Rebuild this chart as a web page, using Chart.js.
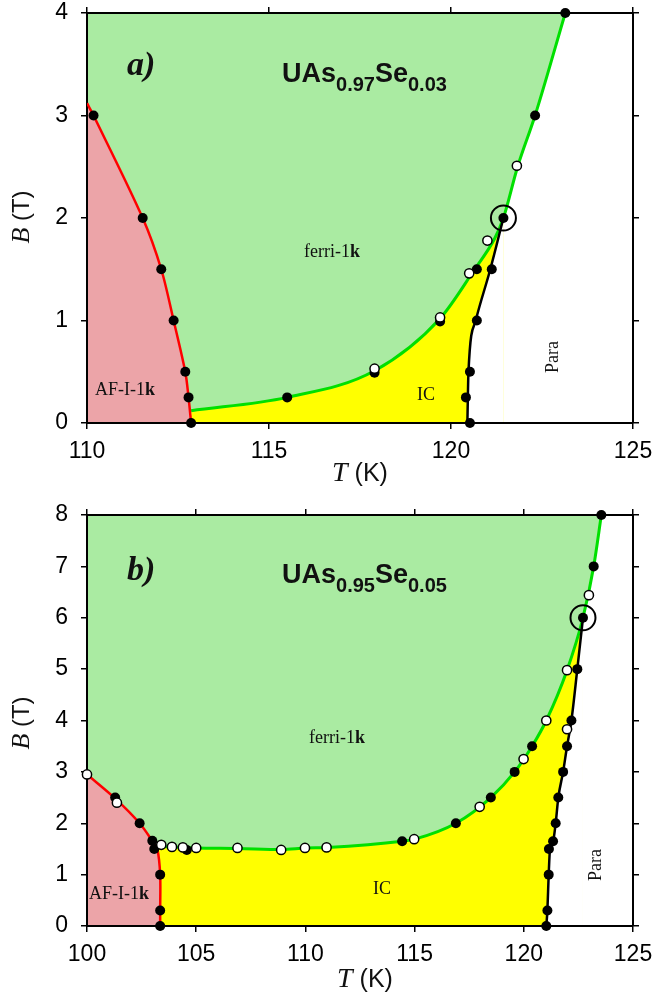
<!DOCTYPE html>
<html>
<head>
<meta charset="utf-8">
<script src="https://cdn.jsdelivr.net/npm/chart.js@4.4.1/dist/chart.umd.min.js"></script>
<style>
  html, body { margin: 0; padding: 0; background: #fff; }
  #wrap { position: relative; width: 653px; height: 997px; }
  canvas { position: absolute; left: 0; }
  #chartA { top: 0; }
  #chartB { top: 497px; }
</style>
</head>
<body>
<div id="wrap">
  <canvas id="chartA" width="653" height="497"></canvas>
  <canvas id="chartB" width="653" height="500"></canvas>
</div>
<script>
/* ── Panel a) UAs0.97Se0.03 : [T (K), B (T)] ── */
const afLineA    = [[110.0,3.12],[110.18,3.0],[111.53,2.0],[112.04,1.5],[112.38,1.0],[112.70,0.5],[112.79,0.25],[112.86,0]];
const ferriLineA = [[112.86,0.12],[115.5,0.25],[117.9,0.51],[119.7,1.02],[120.65,1.5],[121.2,1.8],[121.44,2.0],[121.83,2.5],[122.31,3.0],[123.14,4.0]];
const paraLineA  = [[120.45,0],[120.48,0.5],[120.68,1.0],[121.08,1.5],[121.44,2.0]];
const filledA = [[110.18,3.0],[111.53,2.0],[112.04,1.5],[112.38,1.0],[112.70,0.5],[112.79,0.25],[112.86,0],
                 [115.5,0.25],[117.9,0.49],[119.7,0.99],[120.71,1.5],[121.12,1.5],
                 [120.52,0],[120.41,0.25],[120.52,0.5],[120.71,1.0],[121.44,2.0],[122.31,3.0],[123.14,4.0]];
const openA  = [[117.9,0.53],[119.7,1.03],[120.5,1.46],[121.0,1.78],[121.81,2.51]];
const ringA  = [[121.44,2.0]];
const xRangeA = [110, 125, 5];
const yRangeA = [0, 4, 1];

/* ── Panel b) UAs0.95Se0.05 ── */
const afLineB    = [[100.0,2.95],[101.3,2.48],[102.41,2.0],[103.0,1.65],[103.22,1.5],[103.35,1.0],[103.35,0.3],[103.35,0]];
const ferriLineB = [[103.2,1.55],[103.9,1.54],[105.0,1.52],[106.9,1.51],[108.9,1.49],[110.0,1.52],[111.0,1.53],
                    [114.43,1.65],[115.0,1.69],[116.89,2.0],[118.49,2.5],[119.58,3.0],[120.38,3.5],[121.03,4.0],
                    [121.98,4.98],[122.71,6.0],[123.2,7.0],[123.55,8.0]];
const paraLineB  = [[121.03,0],[121.08,0.3],[121.14,1.0],[121.2,1.5],[121.34,1.65],[121.46,2.0],[121.58,2.5],
                    [121.8,3.0],[121.98,3.5],[122.18,4.0],[122.45,5.0],[122.71,6.0]];
const filledB = [[101.29,2.5],[102.41,2.0],[102.99,1.66],[103.08,1.5],[103.35,1.0],[103.35,0.3],[103.35,0],
                 [104.57,1.48],[114.43,1.65],[116.89,2.0],[118.49,2.5],[119.58,3.0],[120.38,3.5],
                 [121.03,0],[121.08,0.3],[121.14,1.0],[121.15,1.5],[121.34,1.65],[121.46,2.0],[121.58,2.5],
                 [121.8,3.0],[121.98,3.5],[122.18,4.0],[122.45,5.0],[122.71,6.0],[123.2,7.0],[123.55,8.0]];
const openB  = [[100.0,2.95],[101.37,2.4],[103.4,1.58],[103.89,1.54],[104.39,1.53],[105.0,1.52],[106.89,1.52],
                [108.89,1.48],[109.98,1.52],[110.97,1.53],[114.98,1.69],[117.98,2.32],[119.99,3.25],
                [121.03,4.0],[121.98,4.98],[121.98,3.83],[122.98,6.44]];
const ringB  = [[122.71,6.0]];
const xRangeB = [100, 125, 5];
const yRangeB = [0, 8, 1];

/* ── styles ── */
const SERIF = '"Liberation Serif", "Times New Roman", serif';
const SANS  = '"Liberation Sans", Arial, sans-serif';
const C_FERRI = '#aaeba2';
const C_AF    = '#eca4a8';
const C_IC    = '#ffff00';

const xy = arr => arr.map(([x, y]) => ({ x, y }));

function fillSet(points, target, color, order, mode) {
  return { data: xy(points), fill: target, backgroundColor: color, borderWidth: 0,
           pointRadius: 0, order, tension: 0.3, cubicInterpolationMode: mode };
}
function lineSet(points, color, width, order, mode) {
  return { data: xy(points), fill: false, borderColor: color, borderWidth: width,
           pointRadius: 0, order, tension: 0.3, cubicInterpolationMode: mode };
}
function dotSet(points, radius, bg, border, bw, order) {
  return { data: xy(points), showLine: false, pointRadius: radius, pointBackgroundColor: bg,
           pointBorderColor: border, pointBorderWidth: bw, order, clip: false };
}

function buildDatasets(af, ferri, para, filled, open, ring) {
  // ferri region = everything above the AF line and the ferri line
  const edge = af.filter(p => p[1] > ferri[0][1]).concat(ferri);
  // IC region stops where the para line meets the ferri line
  const tEnd = para[para.length - 1][0];
  const icTop = ferri.filter(p => p[0] <= tEnd);
  return [
    fillSet(edge, 'end', C_FERRI, 20, 'monotone'),
    fillSet(icTop, 'start', C_IC, 19, 'monotone'),
    fillSet(af, 'start', C_AF, 18, 'default'),
    fillSet(para, 'start', '#ffffff', 17, 'monotone'),
    lineSet(af, '#ff0000', 2.5, 10, 'default'),
    lineSet(ferri, '#00e000', 3, 10, 'monotone'),
    lineSet(para, '#000000', 2.5, 9, 'monotone'),
    dotSet(filled, 5, '#000', '#000', 0, 3),
    dotSet(open, 4.6, '#fff', '#000', 1.5, 2),
    dotSet(ring, 12.5, 'rgba(0,0,0,0)', '#000', 2, 1),
  ];
}

function buildScales(xr, yr, topH, bottomH) {
  const border = { color: '#000', width: 2 };
  const grid = { drawOnChartArea: false, color: '#000', lineWidth: 1.5, tickLength: 6 };
  const font = { family: SANS, size: 23 };
  return {
    x:  { type: 'linear', position: 'bottom', min: xr[0], max: xr[1], grid, border,
          ticks: { stepSize: xr[2], color: '#000', font, padding: 9, maxRotation: 0 },
          afterFit: s => { s.height = bottomH; s.paddingLeft = 0; s.paddingRight = 0; } },
    x2: { type: 'linear', position: 'top', min: xr[0], max: xr[1], grid, border,
          ticks: { stepSize: xr[2], display: false },
          afterFit: s => { s.height = topH; s.paddingLeft = 0; s.paddingRight = 0; } },
    y:  { type: 'linear', position: 'left', min: yr[0], max: yr[1], grid, border,
          ticks: { stepSize: yr[2], color: '#000', font, padding: 13 },
          afterFit: s => { s.width = 87; s.paddingTop = 0; s.paddingBottom = 0; } },
    y2: { type: 'linear', position: 'right', min: yr[0], max: yr[1], grid, border,
          ticks: { stepSize: yr[2], display: false },
          afterFit: s => { s.width = 20; s.paddingTop = 0; s.paddingBottom = 0; } },
  };
}

/* ── rich text: runs of differently styled text on one baseline ── */
function drawRuns(ctx, runs, x, y, align, rot) {
  ctx.save();
  ctx.translate(x, y);
  if (rot) ctx.rotate(rot);
  let total = 0;
  runs.forEach(r => { ctx.font = r.font; r.w = ctx.measureText(r.t).width; total += r.w; });
  let cx = align === 'center' ? -total / 2 : 0;
  ctx.fillStyle = '#111';
  ctx.textBaseline = 'alphabetic';
  ctx.textAlign = 'left';
  runs.forEach(r => { ctx.font = r.font; ctx.fillText(r.t, cx, r.dy || 0); cx += r.w; });
  ctx.restore();
}

const textPlugin = {
  id: 'phaseText',
  afterDraw(chart, args, opts) {
    (opts.items || []).forEach(it => drawRuns(chart.ctx, it.runs, it.x, it.y, it.align, it.rot));
  }
};

function formula(a, b) {
  const big = `bold 27px ${SANS}`, small = `bold 20px ${SANS}`;
  return [{ t: 'UAs', font: big }, { t: a, font: small, dy: 9 },
          { t: 'Se', font: big }, { t: b, font: small, dy: 9 }];
}
const ferriRuns = [{ t: 'ferri-1', font: `18px ${SERIF}` }, { t: 'k', font: `bold 18px ${SERIF}` }];
const afRuns = [{ t: 'AF-I-1', font: `18px ${SERIF}` }, { t: 'k', font: `bold 18px ${SERIF}` }];
const icRuns = [{ t: 'IC', font: `18px ${SERIF}` }];
const paraRuns = [{ t: 'Para', font: `18px ${SERIF}` }];
const yTitle = [{ t: 'B', font: `italic 26px ${SERIF}` }, { t: ' (T)', font: `24px ${SANS}` }];
const xTitle = [{ t: 'T', font: `italic 28px ${SERIF}` }, { t: ' (K)', font: `25px ${SANS}` }];

function makeChart(id, datasets, scales, items) {
  return new Chart(document.getElementById(id), {
    type: 'line',
    data: { datasets },
    options: {
      responsive: false, animation: false, events: [],
      layout: { padding: 0, autoPadding: false },
      parsing: false,
      scales,
      plugins: {
        legend: { display: false }, tooltip: { enabled: false },
        filler: { drawTime: 'beforeDraw' },   // region fills sit under the frame
        phaseText: { items },
      },
    },
    plugins: [textPlugin],
  });
}

makeChart('chartA',
  buildDatasets(afLineA, ferriLineA, paraLineA, filledA, openA, ringA),
  buildScales(xRangeA, yRangeA, 13, 74),
  [
    { runs: [{ t: 'a)', font: `italic bold 34px ${SERIF}` }], x: 127, y: 75 },
    { runs: formula('0.97', '0.03'), x: 282, y: 82 },
    { runs: ferriRuns, x: 332, y: 257, align: 'center' },
    { runs: afRuns, x: 95, y: 395 },
    { runs: icRuns, x: 417, y: 400 },
    { runs: paraRuns, x: 558, y: 357, align: 'center', rot: -Math.PI / 2 },
    { runs: yTitle, x: 29, y: 217, align: 'center', rot: -Math.PI / 2 },
    { runs: xTitle, x: 360, y: 481, align: 'center' },
  ]);

makeChart('chartB',
  buildDatasets(afLineB, ferriLineB, paraLineB, filledB, openB, ringB),
  buildScales(xRangeB, yRangeB, 18, 71),
  [
    { runs: [{ t: 'b)', font: `italic bold 34px ${SERIF}` }], x: 127, y: 83 },
    { runs: formula('0.95', '0.05'), x: 282, y: 86 },
    { runs: ferriRuns, x: 337, y: 246, align: 'center' },
    { runs: afRuns, x: 89, y: 402 },
    { runs: icRuns, x: 373, y: 397 },
    { runs: paraRuns, x: 601, y: 368, align: 'center', rot: -Math.PI / 2 },
    { runs: yTitle, x: 29, y: 226, align: 'center', rot: -Math.PI / 2 },
    { runs: xTitle, x: 365, y: 490, align: 'center' },
  ]);
</script>
</body>
</html>
